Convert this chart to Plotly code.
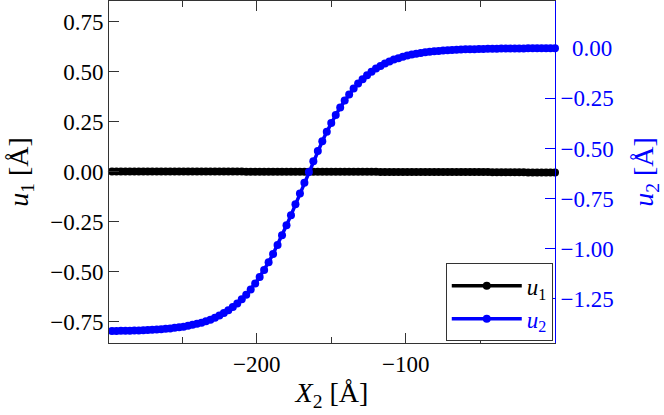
import plotly.graph_objects as go

x_vals = [-297, -294, -291, -288, -285, -282, -279, -276, -273, -270,
          -267, -264, -261, -258, -255, -252, -249, -246, -243, -240,
          -237, -234, -231, -228, -225, -222, -219, -216, -213, -210,
          -207, -204, -201, -198, -195, -192, -189, -186, -183, -180,
          -177, -174, -171, -168, -165, -162, -159, -156, -153, -150,
          -147, -144, -141, -138, -135, -132, -129, -126, -123, -120,
          -117, -114, -111, -108, -105, -102, -99, -96, -93, -90,
          -87, -84, -81, -78, -75, -72, -69, -66, -63, -60,
          -57, -54, -51, -48, -45, -42, -39, -36, -33, -30,
          -27, -24, -21, -18, -15, -12, -9, -6, -3, 0]

u1_vals = [0.001, 0.001, 0.001, 0.001, 0.001, 0.001, 0.001, 0.001, 0.001, 0.001,
           0.001, 0.001, 0.001, 0.001, 0.001, 0.001, 0.001, 0.001, 0.001, 0.001,
           0.001, 0.001, 0.001, 0.001, 0.001, 0.001, 0.001, 0.001, 0.001, 0.001,
           0.000, 0.000, 0.000, 0.000, 0.000, 0.000, 0.000, 0.000, 0.000, 0.000,
           0.000, 0.000, 0.000, 0.000, 0.000, 0.000, 0.000, 0.000, 0.000, 0.000,
           0.000, 0.000, 0.000, 0.000, 0.000, 0.000, 0.000, 0.000, 0.000, 0.000,
           -0.001, -0.001, -0.001, -0.001, -0.001, -0.001, -0.001, -0.001, -0.001, -0.001,
           -0.001, -0.001, -0.001, -0.001, -0.001, -0.002, -0.002, -0.002, -0.002, -0.002,
           -0.002, -0.002, -0.002, -0.002, -0.002, -0.003, -0.003, -0.003, -0.003, -0.003,
           -0.003, -0.003, -0.003, -0.004, -0.004, -0.004, -0.004, -0.004, -0.004, -0.004]

u2_vals = [-1.412, -1.412, -1.411, -1.411, -1.410, -1.409, -1.409, -1.408, -1.407, -1.406,
           -1.404, -1.403, -1.401, -1.399, -1.396, -1.393, -1.390, -1.386, -1.381, -1.376,
           -1.370, -1.363, -1.355, -1.345, -1.334, -1.322, -1.308, -1.292, -1.274, -1.253,
           -1.230, -1.204, -1.174, -1.142, -1.107, -1.068, -1.027, -0.982, -0.934, -0.884,
           -0.833, -0.779, -0.725, -0.671, -0.617, -0.564, -0.513, -0.464, -0.417, -0.373,
           -0.333, -0.295, -0.261, -0.230, -0.201, -0.176, -0.154, -0.134, -0.117, -0.101,
           -0.088, -0.076, -0.065, -0.056, -0.049, -0.042, -0.036, -0.031, -0.027, -0.023,
           -0.020, -0.017, -0.015, -0.013, -0.011, -0.009, -0.008, -0.007, -0.006, -0.005,
           -0.004, -0.004, -0.003, -0.003, -0.002, -0.002, -0.002, -0.001, -0.001, -0.001,
           -0.001, -0.001, -0.001, 0.000, 0.000, 0.000, 0.000, 0.000, 0.000, 0.000]

x_tickvals = [-200, -100]
x_minor_ticks = [-250, -150, -50]
y1_tickvals = [-0.75, -0.50, -0.25, 0.00, 0.25, 0.50, 0.75]
y2_tickvals = [-1.25, -1.00, -0.75, -0.50, -0.25, 0.00]
y2_ticktext = ["\u22121.25", "\u22121.00", "\u22120.75", "\u22120.50", "\u22120.25", "\u20070.00"]

FONT = "Liberation Serif"
BLUE = "#0000ff"
AX = "#333333"

fig = go.Figure()
fig.add_trace(go.Scatter(
    x=x_vals, y=u1_vals, mode="lines+markers",
    name="<i>u</i><sub>1</sub>",
    line=dict(color="black", width=3.5),
    marker=dict(color="black", size=8),
    cliponaxis=False, yaxis="y",
))
fig.add_trace(go.Scatter(
    x=x_vals, y=u2_vals, mode="lines+markers",
    name='<span style="color:#0000ff"><i>u</i><sub>2</sub></span>',
    line=dict(color=BLUE, width=3.5),
    marker=dict(color=BLUE, size=8),
    cliponaxis=False, yaxis="y2",
))

fig.update_layout(
    template="none",
    width=664, height=415,
    margin=dict(l=109, r=109, t=1, b=72, autoexpand=False),
    paper_bgcolor="white", plot_bgcolor="white",
    font=dict(family=FONT, size=23, color="black"),
    showlegend=True,
    legend=dict(
        x=0.995, y=0.005, xanchor="right", yanchor="bottom",
        bordercolor=AX, borderwidth=1, bgcolor="white",
        font=dict(family=FONT, size=23, color="black"),
        itemwidth=70, tracegroupgap=0,
    ),
    xaxis=dict(
        range=[-299, 0], showgrid=False, zeroline=False, automargin=False,
        showline=True, linecolor=AX, linewidth=1, mirror="ticks",
        ticks="inside", ticklen=10, tickcolor=AX, tickwidth=1,
        tickvals=x_tickvals,
        minor=dict(tickvals=x_minor_ticks, ticks="inside", ticklen=6, tickcolor=AX, tickwidth=1),
        title=dict(text="<i>X</i><sub>2</sub> [Å]", standoff=6),
        tickfont=dict(family=FONT, size=23, color="black"),
    ),
    yaxis=dict(
        range=[-0.856, 0.853], showgrid=False, zeroline=False, automargin=False,
        showline=True, linecolor=AX, linewidth=1,
        ticks="inside", ticklen=10, tickcolor=AX, tickwidth=1,
        tickvals=y1_tickvals, tickformat=".2f",
        title=dict(text="<i>u</i><sub>1</sub> [Å]", standoff=13),
        tickfont=dict(family=FONT, size=23, color="black"),
    ),
    yaxis2=dict(
        overlaying="y", side="right", automargin=False,
        range=[-1.4716, 0.2366], showgrid=False, zeroline=False,
        showline=True, linecolor=BLUE, linewidth=1,
        ticks="inside", ticklen=10, tickcolor=BLUE, tickwidth=1,
        tickvals=y2_tickvals, ticktext=y2_ticktext,
        title=dict(text="<i>u</i><sub>2</sub> [Å]", standoff=20, font=dict(color=BLUE)),
        tickfont=dict(family=FONT, size=23, color=BLUE),
    ),
)

fig.write_html(
    "out.html",
    config={"displayModeBar": False},
    post_script="document.body.style.margin='0';document.body.style.padding='0';document.body.style.overflow='hidden';",
)
